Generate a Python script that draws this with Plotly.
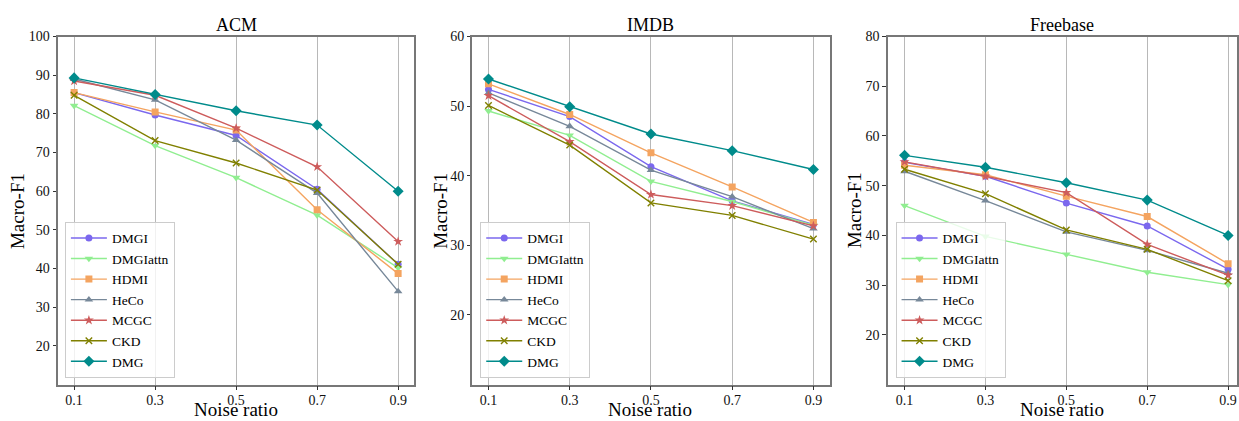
import plotly.graph_objects as go

noise = [0.1, 0.3, 0.5, 0.7, 0.9]
x_ticks = [0.1, 0.3, 0.5, 0.7, 0.9]
x_ticklabels = ["0.1", "0.3", "0.5", "0.7", "0.9"]

methods = ["DMGI", "DMGIattn", "HDMI", "HeCo", "MCGC", "CKD", "DMG"]

# ACM
acm_DMGI = [85.5, 79.7, 74.4, 60.5, 41.1]
acm_DMGIattn = [82.1, 71.8, 63.5, 53.8, 40.2]
acm_HDMI = [85.5, 80.5, 75.8, 55.2, 38.7]
acm_HeCo = [89.0, 83.6, 73.2, 59.5, 34.1]
acm_MCGC = [88.5, 84.8, 76.3, 66.3, 47.0]
acm_CKD = [84.8, 73.1, 67.3, 60.3, 41.1]
acm_DMG = [89.3, 85.0, 80.8, 77.1, 60.0]

# IMDB
imdb_DMGI = [52.4, 48.5, 41.3, 36.4, 33.0]
imdb_DMGIattn = [49.3, 45.8, 39.2, 36.3, 32.9]
imdb_HDMI = [53.2, 48.8, 43.3, 38.4, 33.3]
imdb_HeCo = [51.9, 47.1, 40.8, 37.0, 32.4]
imdb_MCGC = [51.5, 44.9, 37.3, 35.7, 32.8]
imdb_CKD = [50.1, 44.4, 36.1, 34.3, 30.9]
imdb_DMG = [53.9, 49.9, 46.0, 43.6, 40.9]

# Freebase
fb_DMGI = [54.7, 51.9, 46.5, 41.9, 33.2]
fb_DMGIattn = [46.0, 39.8, 36.2, 32.6, 30.1]
fb_HDMI = [54.1, 52.2, 47.9, 43.8, 34.3]
fb_HeCo = [52.9, 47.0, 40.7, 37.0, 32.4]
fb_MCGC = [54.8, 51.9, 48.6, 38.2, 32.0]
fb_CKD = [53.3, 48.4, 41.1, 37.2, 30.9]
fb_DMG = [56.1, 53.7, 50.6, 47.1, 40.0]

panels = [
    ("ACM", [acm_DMGI, acm_DMGIattn, acm_HDMI, acm_HeCo, acm_MCGC, acm_CKD, acm_DMG],
     [10, 100], [20, 30, 40, 50, 60, 70, 80, 90, 100]),
    ("IMDB", [imdb_DMGI, imdb_DMGIattn, imdb_HDMI, imdb_HeCo, imdb_MCGC, imdb_CKD, imdb_DMG],
     [10, 60], [20, 30, 40, 50, 60]),
    ("Freebase", [fb_DMGI, fb_DMGIattn, fb_HDMI, fb_HeCo, fb_MCGC, fb_CKD, fb_DMG],
     [10, 80], [20, 30, 40, 50, 60, 70, 80]),
]

colors = ["#7B68EE", "#90EE90", "#F4A460", "#778899", "#CD5C5C", "#808000", "#008B8B"]
symbols = ["circle", "triangle-down", "square", "triangle-up", "star", "x-thin", "diamond"]
msizes = [7, 7.5, 7, 7.5, 7.5, 6.5, 8.5]

W, H = 1239, 421
FONT = "Liberation Serif, Times New Roman, serif"

# pixel geometry of panels
px_left = [58, 473, 889]
px_right = [415, 831, 1239]
x_ranges = [[0.06, 0.94], [0.06, 0.94], [0.058, 0.922]]
top_px, bot_px = 30, 384
ydom = [1 - bot_px / H, 1 - top_px / H]

fig = go.Figure()
legend_names = ["legend", "legend2", "legend3"]

for p, (title, series, yr, yt) in enumerate(panels):
    xa = "x" if p == 0 else f"x{p+1}"
    ya = "y" if p == 0 else f"y{p+1}"
    for i, m in enumerate(methods):
        mk = dict(symbol=symbols[i], size=msizes[i], color=colors[i])
        if symbols[i] == "x-thin":
            mk["line"] = dict(width=1.4, color=colors[i])
        else:
            mk["line"] = dict(width=0)
        fig.add_trace(go.Scatter(
            x=noise, y=series[i], name=m, mode="lines+markers",
            line=dict(color=colors[i], width=1.4), marker=mk,
            xaxis=xa, yaxis=ya, legend=legend_names[p], showlegend=True,
        ))
    axis_common = dict(
        showline=True, linecolor="#777777", linewidth=1.5, mirror=True,
        ticks="outside", ticklen=3.5, tickwidth=1, tickcolor="#333333",
        tickfont=dict(family=FONT, size=14, color="#111111"),
        zeroline=False,
    )
    xkey = "xaxis" if p == 0 else f"xaxis{p+1}"
    ykey = "yaxis" if p == 0 else f"yaxis{p+1}"
    fig.update_layout({
        xkey: dict(domain=[px_left[p] / W, px_right[p] / W], range=x_ranges[p],
                   tickvals=x_ticks, ticktext=x_ticklabels, anchor=ya,
                   ticklabelstandoff=-2,
                   showgrid=True, gridcolor="#b8b8b8", gridwidth=1, **axis_common),
        ykey: dict(domain=ydom, range=yr, tickvals=yt, anchor=xa,
                   showgrid=False, **axis_common),
    })
    cx = (px_left[p] + min(px_right[p], px_left[p] + 357)) / 2 / W
    fig.add_annotation(text=title, x=cx, y=1 - 18 / H, xref="paper", yref="paper",
                       showarrow=False, font=dict(family=FONT, size=18, color="#000000"),
                       xanchor="center", yanchor="middle")
    fig.add_annotation(text="Noise ratio", x=cx, y=1 - 409 / H, xref="paper", yref="paper",
                       showarrow=False, font=dict(family=FONT, size=19, color="#000000"),
                       xanchor="center", yanchor="middle")
    ylab_x = [17.5, 441, 856][p]
    fig.add_annotation(text="Macro-F1", x=ylab_x / W, y=1 - 207 / H, xref="paper", yref="paper",
                       showarrow=False, textangle=-90,
                       font=dict(family=FONT, size=19, color="#000000"),
                       xanchor="center", yanchor="middle")

leg_left = [65, 481, 897]
for p, ln in enumerate(legend_names):
    fig.update_layout({ln: dict(
        x=leg_left[p] / W, y=1 - 377 / H, xanchor="left", yanchor="bottom",
        xref="paper", yref="paper",
        bgcolor="rgba(255,255,255,0.8)", bordercolor="#cccccc", borderwidth=1,
        font=dict(family=FONT, size=13.5, color="#000000"),
        itemwidth=36, tracegroupgap=0,
    )})

fig.update_layout(
    width=W, height=H, autosize=False,
    margin=dict(l=0, r=0, t=0, b=0),
    paper_bgcolor="white", plot_bgcolor="white",
    font=dict(family=FONT),
)

fig.write_html("out.html", config={"displayModeBar": False},
               post_script="document.body.style.margin='0';document.body.style.overflow='hidden';")
